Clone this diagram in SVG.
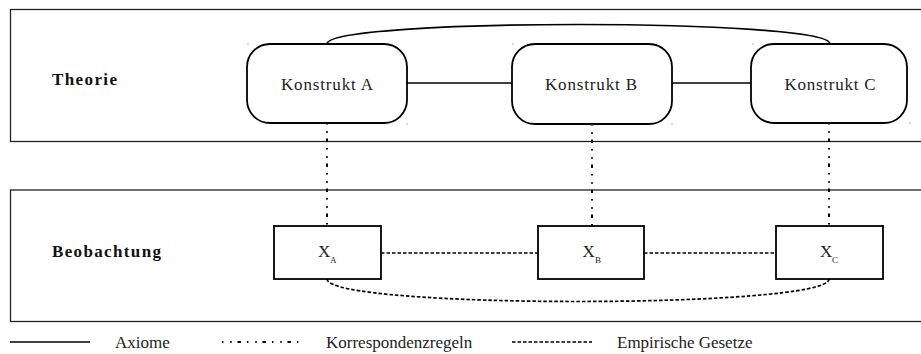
<svg xmlns="http://www.w3.org/2000/svg" width="921" height="354" viewBox="0 0 921 354" font-family="'Liberation Serif', 'DejaVu Serif', 'Times New Roman', serif">
<style>
.panel{fill:none;stroke:#222;stroke-width:1.3}
.konstrukt{fill:#fff;stroke:#000;stroke-width:1.8}
.obs{fill:#fff;stroke:#000;stroke-width:1.8}
.lbl{font-size:17px;fill:#222}
.bold{font-size:17px;font-weight:bold;fill:#111}
.sub{font-size:9px;fill:#222}
.axiom{fill:none;stroke:#000;stroke-width:1.7}
.korr{fill:none;stroke:#000;stroke-width:2;stroke-dasharray:1.4 6.9 1.4 5.8 3.4 6.1}
.emp{fill:none;stroke:#000;stroke-width:1.7;stroke-dasharray:3.5 2}
.tick{fill:#666}
</style>
<g id="panels">
<rect id="theorie-panel" class="panel" x="10.5" y="9.5" width="920" height="132"/>
<text class="bold" x="52" y="85" textLength="65" font-family="Liberation Serif, serif">Theorie</text>
<rect id="beobachtung-panel" class="panel" x="10.5" y="190" width="920" height="131.5"/>
<text class="bold" x="52" y="257" textLength="109" font-family="Liberation Serif, serif">Beobachtung</text>
</g>
<g id="connectors">
<path class="axiom" d="M327,44 C327,18 830,18 830,44"/>
<line class="axiom" x1="407" y1="83" x2="512" y2="83"/>
<line class="axiom" x1="672" y1="83" x2="751" y2="83"/>
<line class="korr" x1="327" y1="123" x2="327" y2="226"/>
<line class="korr" x1="592" y1="124" x2="592" y2="226"/>
<line class="korr" x1="829" y1="123" x2="829" y2="226"/>
<line class="emp" x1="381" y1="253" x2="538" y2="253"/>
<line class="emp" x1="644" y1="253" x2="776" y2="253"/>
<path class="emp" d="M327,279 C327,309 829,309 829,279"/>
</g>
<g id="konstrukt-a">
<rect class="konstrukt" x="247" y="44" width="160" height="79" rx="23"/>
<text class="lbl" x="327" y="90" text-anchor="middle" textLength="92">Konstrukt A</text>
</g>
<g id="konstrukt-b">
<rect class="konstrukt" x="512" y="44" width="160" height="80" rx="23"/>
<text class="lbl" x="591" y="90" text-anchor="middle" textLength="92">Konstrukt B</text>
</g>
<g id="konstrukt-c">
<rect class="konstrukt" x="751" y="44" width="156" height="79" rx="23"/>
<text class="lbl" x="830" y="90" text-anchor="middle" textLength="91">Konstrukt C</text>
</g>
<g id="x-a">
<rect class="obs" x="274" y="226" width="107" height="53"/>
<text class="lbl" x="318" y="257">X</text>
<text class="sub" x="330" y="263">A</text>
</g>
<g id="x-b">
<rect class="obs" x="538" y="226" width="106" height="53"/>
<text class="lbl" x="582.5" y="257">X</text>
<text class="sub" x="595" y="263">B</text>
</g>
<g id="x-c">
<rect class="obs" x="776" y="226" width="107" height="53"/>
<text class="lbl" x="820" y="257">X</text>
<text class="sub" x="832" y="263">C</text>
</g>
<g id="ticks">
<rect class="tick" x="247.5" y="43.5" width="1" height="1"/>
<rect class="tick" x="406.5" y="123.5" width="1" height="1"/>
<rect class="tick" x="512.5" y="43.5" width="1" height="1"/>
<rect class="tick" x="671.5" y="123.5" width="1" height="1"/>
<rect class="tick" x="752.5" y="43.5" width="1" height="1"/>
<rect class="tick" x="909.5" y="122.5" width="1" height="1"/>
</g>
<g id="legend">
<line class="axiom" x1="10" y1="342" x2="90" y2="342"/>
<text class="lbl" x="115" y="348">Axiome</text>
<line class="korr" x1="222" y1="342" x2="300" y2="342"/>
<text class="lbl" x="326" y="348">Korrespondenzregeln</text>
<line class="emp" x1="512" y1="342" x2="592" y2="342"/>
<text class="lbl" x="617" y="348">Empirische Gesetze</text>
</g>
</svg>
